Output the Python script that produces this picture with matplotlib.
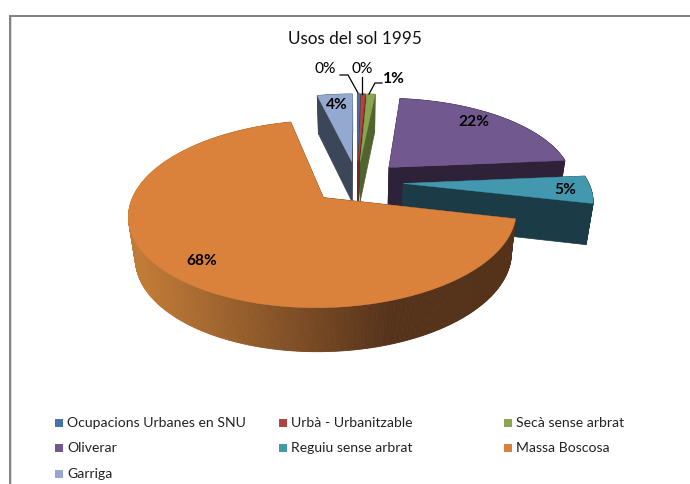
import numpy as np
import matplotlib
matplotlib.use("Agg")
import matplotlib.pyplot as plt
from matplotlib.colors import to_rgb
from matplotlib.patches import Rectangle

TITLE = "Usos del sol 1995"
categories = ["Ocupacions Urbanes en SNU", "Urbà - Urbanitzable", "Secà sense arbrat",
              "Oliverar", "Reguiu sense arbrat", "Massa Boscosa", "Garriga"]
values = [0.3, 0.45, 0.85, 22.0, 5.0, 67.7, 3.7]

# styles
top_colors = ["#4572A7", "#AA4643", "#89A54E", "#71588F", "#4198AF", "#DA823B", "#93A9CF"]
side_colors = ["#2A4464", "#662A28", "#52632F", "#2E2238", "#1B3C47", "#55321A", "#3B4659"]

# projection layout
CX, CY = 357.0, 182.0
RX, RY = 185.0, 85.4
PERSP = 0.17
EXPLODE = 0.25
DEPTH_DY = 40.6

plt.rcParams["font.family"] = ["Lato", "DejaVu Sans"]
fig = plt.figure(figsize=(6.9, 4.84), dpi=100)
ax = fig.add_axes([0, 0, 1, 1])
ax.set_xlim(0, 690)
ax.set_ylim(484, 0)
ax.axis("off")


def project(u, v, bottom=False):
    w = 1.0 / (1.0 - PERSP * v)
    x = CX + RX * u * w
    y = CY + RY * v * w
    if bottom:
        x = CX + 0.97 * (x - CX)
        y = CY + DEPTH_DY + 1.027 * (y - CY)
    return x, y


def wedge_outline(a0, a1, u0, v0):
    t = np.linspace(a0, a1, max(int((a1 - a0) * 120), 6))
    return u0 + np.sin(t), v0 - np.cos(t)


order = [6, 0, 1, 2, 3, 4, 5]
fracs = np.array(values) / sum(values)
edges = np.concatenate([[0], np.cumsum(fracs)]) * 2 * np.pi

for i in order:
    a0, a1 = edges[i], edges[i + 1]
    mid = (a0 + a1) / 2
    u0, v0 = EXPLODE * np.sin(mid), -EXPLODE * np.cos(mid)
    us, vs = wedge_outline(a0, a1, u0, v0)
    side = side_colors[i]
    z = 1 + order.index(i)
    # radial cut faces
    for ue, ve in [(us[0], vs[0]), (us[-1], vs[-1])]:
        xt, yt = project(np.array([u0, ue]), np.array([v0, ve]))
        xb, yb = project(np.array([u0, ue]), np.array([v0, ve]), bottom=True)
        ax.fill(np.r_[xt, xb[::-1]], np.r_[yt, yb[::-1]], color=side, lw=0.5, zorder=z)
    # outer wall
    xt, yt = project(us, vs)
    xb, yb = project(us, vs, bottom=True)
    for k in range(len(us) - 1):
        c = side
        if i == 5:  # gradient along the large slice
            f = np.clip((xt[k] - 140) / 250.0, 0, 1)
            c = tuple((1 - f) * np.array(to_rgb("#C27B37")) + f * np.array(to_rgb(side)))
        ax.fill([xt[k], xt[k + 1], xb[k + 1], xb[k]], [yt[k], yt[k + 1], yb[k + 1], yb[k]],
                color=c, lw=0.6, zorder=z)
    # top surface
    ax.fill(*project(np.r_[u0, us], np.r_[v0, vs]), color=top_colors[i], lw=0.3, zorder=z)

# text
ax.text(355, 39, TITLE, ha="center", va="center", fontsize=12.3, color="#111111")

label_xy = [(325, 69), (362, 69), (394, 79), (474, 122), (565, 190), (202, 261), (337, 105)]
for v, (lx, ly) in zip(values, label_xy):
    ax.text(lx, ly, f"{round(v)}%", ha="center", va="center", fontsize=11.2,
            color="black", fontweight="bold" if v >= 0.8 else "normal", zorder=20)

# leader lines
for lx, ly in [((340, 348, 358), (75, 75, 93)), ((362, 362), (77, 94)), ((382, 375, 369), (83, 83, 94))]:
    ax.plot(lx, ly, color="black", lw=0.9, zorder=20)

# legend
col_x = [55, 279, 504]
row_y = [423, 448, 474]
for idx, name in enumerate(categories):
    x = col_x[idx % 3]
    y = row_y[idx // 3]
    ax.add_patch(Rectangle((x, y - 4), 8, 8, color=top_colors[idx], lw=0, zorder=20))
    ax.text(x + 12, y, name, ha="left", va="center", fontsize=10.1, color="#222222", zorder=20)

# chart frame
ax.add_patch(Rectangle((10, 16), 2, 468, color="#DDDDDD", lw=0, zorder=29))
ax.plot([9.5, 9.5, 690], [484, 15.5, 15.5], color="#808080", lw=1.4, zorder=30,
        solid_joinstyle="miter")

fig.savefig("out.png", dpi=100)
